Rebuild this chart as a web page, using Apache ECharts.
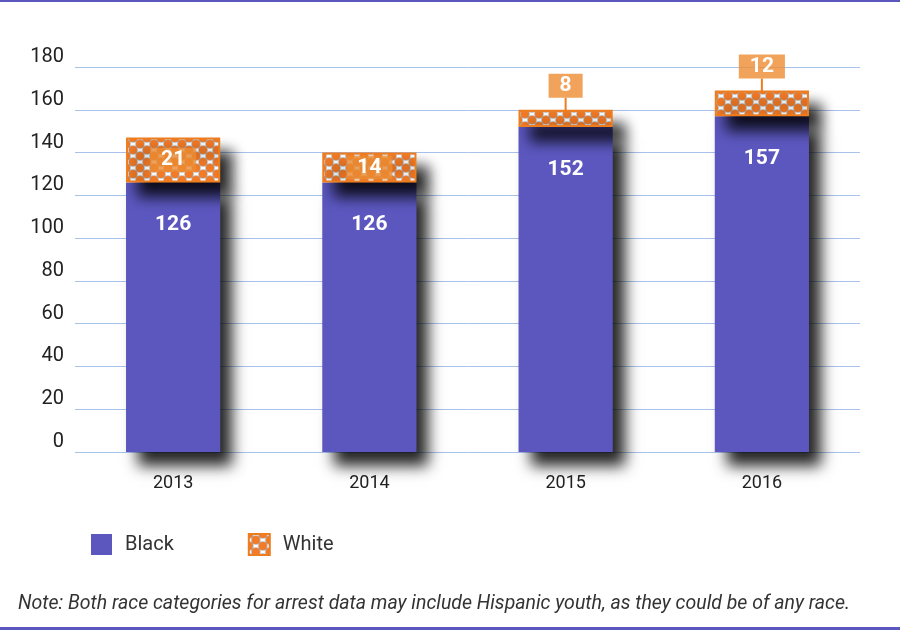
<html>
<head>
  <meta charset="utf-8" />
  <script src="https://cdn.jsdelivr.net/npm/echarts@6/dist/echarts.min.js"></script>
  <style>
    html, body { margin: 0; padding: 0; background: #fff; }
    .wrap { position: relative; width: 900px; height: 631px; }
    .line-top { position: absolute; left: 0; top: 0; width: 900px; height: 2px; background: #5b57bf; }
    .line-bottom { position: absolute; left: 0; top: 627px; width: 900px; height: 3px; background: #5b57bf; }
    .chart { position: absolute; left: 0; top: 0; width: 900px; height: 631px; }
  </style>
</head>
<body>
  <div class="wrap">
    <div class="chart" id="chart"></div>
    <div class="line-top"></div>
    <div class="line-bottom"></div>
  </div>
  <script>
    var years = ['2013', '2014', '2015', '2016'];
    var black = [126, 126, 152, 157];
    var white = [21, 14, 8, 12];
    var yTicks = [0, 20, 40, 60, 80, 100, 120, 140, 160, 180];

    var purple = '#5b57bf';
    var orange = '#ee7d1f';

    // dotted fill used for the White segment
    var makePattern = function () {
      var c = document.createElement('canvas');
      c.width = 14; c.height = 12;
      var ctx = c.getContext('2d');
      ctx.fillStyle = '#fff';
      ctx.fillRect(0, 0, 14, 12);
      var pts = [[0, 0], [14, 0], [7, 6], [0, 12], [14, 12]];
      pts.forEach(function (p) {
        ctx.beginPath();
        ctx.fillStyle = 'rgba(110,110,110,0.5)';
        ctx.arc(p[0], p[1], 4.8, 0, Math.PI * 2);
        ctx.fill();
        ctx.beginPath();
        ctx.fillStyle = '#f37a26';
        ctx.arc(p[0], p[1], 4, 0, Math.PI * 2);
        ctx.fill();
      });
      return c;
    };

    var chart = echarts.init(document.getElementById('chart'));

    var option = {
      animation: false,
      grid: { left: 75, right: 40, top: 67, bottom: 179 },
      legend: {
        left: 91, top: 533, padding: 0, itemWidth: 21, itemHeight: 21, itemGap: 74,
        textStyle: { fontFamily: 'Roboto', fontSize: 20, color: '#333', padding: [0, 0, 0, 8] },
        data: [{ name: 'Black', icon: 'rect' }, { name: 'White', icon: 'rect' }]
      },
      title: {
        text: 'Note: Both race categories for arrest data may include Hispanic youth, as they could be of any race.',
        left: 18, top: 594, padding: 0,
        textStyle: { fontFamily: 'Roboto', fontStyle: 'italic', fontWeight: 'normal', fontSize: 19.5, color: '#333' }
      },
      xAxis: {
        type: 'category',
        data: years,
        axisLine: { show: false },
        axisTick: { show: false },
        axisLabel: { fontFamily: 'Roboto', fontSize: 18, color: '#222', margin: 22 }
      },
      yAxis: {
        type: 'value', min: yTicks[0], max: yTicks[yTicks.length - 1], interval: 20,
        axisLabel: { fontFamily: 'Roboto', fontSize: 20, color: '#222', margin: 11, verticalAlign: 'bottom', lineHeight: 20 },
        splitLine: { lineStyle: { color: '#a9c2ea', width: 1 } }
      },
      series: [
        {
          name: 'Black', type: 'bar', stack: 'r', barWidth: '48%',
          data: black,
          itemStyle: {
            color: purple,
            shadowColor: 'rgba(0,0,0,0.85)', shadowBlur: 14, shadowOffsetX: 12, shadowOffsetY: 14
          },
          label: {
            show: true, position: 'insideTop', distance: 32,
            fontFamily: 'Roboto', fontWeight: 'bold', fontSize: 21, color: '#fff'
          }
        },
        {
          name: 'White', type: 'bar', stack: 'r', barWidth: '48%',
          data: white,
          itemStyle: {
            color: { image: makePattern(), repeat: 'repeat' },
            borderColor: orange, borderWidth: 2,
            shadowColor: 'rgba(0,0,0,0.85)', shadowBlur: 14, shadowOffsetX: 12, shadowOffsetY: 14
          },
          label: {
            show: true, position: 'inside',
            fontFamily: 'Roboto', fontWeight: 'bold', fontSize: 21, color: '#fff',
            backgroundColor: 'rgba(238,140,50,0.8)', padding: [2, 11, 0, 11], lineHeight: 22
          },
          // small segments get their label lifted above the bar with a short leader
          labelLayout: function (p) {
            if (p.dataIndex < 2) return {};
            return { dy: -(p.rect.height / 2 + 24) };
          },
          labelLine: { show: true, lineStyle: { color: orange, width: 2 } }
        }
      ]
    };
    chart.setOption(option);
  </script>
</body>
</html>
